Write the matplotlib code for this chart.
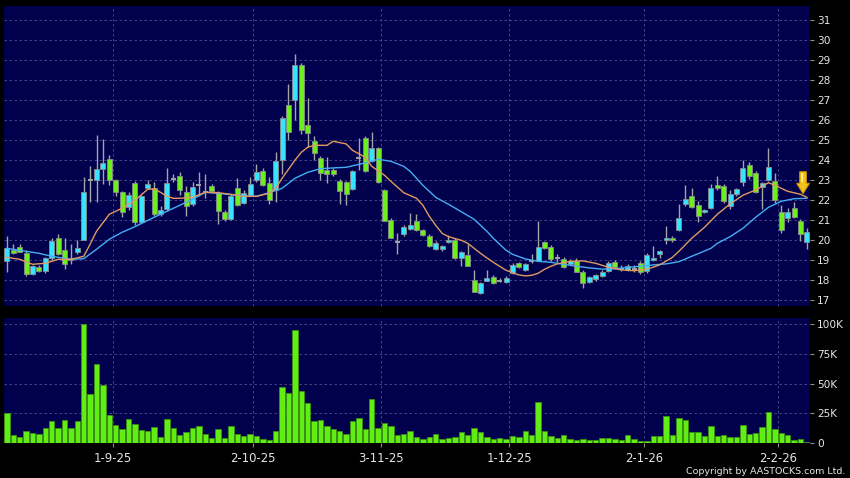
import matplotlib
matplotlib.use("Agg")
import matplotlib.pyplot as plt
from matplotlib.patches import Polygon
import numpy as np

# ---------------- data ----------------
opens = [18.97, 19.53, 19.66, 19.35, 18.33, 18.68, 18.45, 19.10, 20.10, 19.50,
         19.05, 19.40, 20.00, 23.00, 23.00, 23.55, 24.05, 23.00, 22.40, 21.65,
         22.88, 20.90, 22.62, 22.60, 21.33, 21.55, 23.05, 23.20, 22.40, 21.80,
         22.77, 22.40, 22.72, 22.38, 21.40, 21.05, 22.60, 21.85, 22.26, 23.00,
         23.48, 22.88, 22.50, 24.00, 26.77, 27.00, 28.77, 25.77, 24.98, 24.10,
         23.52, 23.50, 22.98, 22.90, 22.55, 24.10, 25.13, 23.97, 24.60, 22.52,
         21.02, 19.90, 20.32, 20.56, 20.98, 20.50, 20.24, 19.57, 19.55, 19.92,
         20.03, 19.12, 19.28, 18.00, 17.36, 17.99, 18.18, 17.97, 17.92, 18.38,
         18.85, 18.53, 18.95, 18.98, 19.90, 19.68, 19.10, 19.09, 18.80, 18.99,
         18.43, 17.92, 18.08, 18.23, 18.48, 18.91, 18.57, 18.52, 18.55, 18.89,
         18.48, 19.00, 19.31, 20.00, 20.12, 20.50, 21.80, 22.22, 21.78, 21.40,
         21.60, 22.78, 22.72, 21.73, 22.32, 22.92, 23.78, 23.39, 22.68, 23.03,
         22.98, 21.44, 21.10, 21.60, 20.98, 19.93]
highs = [20.20, 19.80, 19.80, 19.50, 18.75, 18.75, 19.15, 20.10, 20.30, 20.10,
         19.80, 20.00, 23.15, 23.73, 25.27, 25.05, 24.25, 23.05, 22.45, 22.40,
         22.95, 22.25, 23.00, 22.90, 21.70, 23.60, 23.30, 23.40, 22.70, 22.93,
         23.40, 23.30, 22.80, 22.45, 21.50, 22.30, 23.10, 22.50, 23.15, 23.80,
         23.60, 23.15, 24.40, 26.20, 27.80, 29.30, 28.88, 27.10, 25.20, 24.20,
         24.18, 23.60, 23.05, 22.95, 23.50, 25.10, 25.20, 25.43, 24.65, 22.55,
         21.10, 20.35, 20.75, 21.35, 21.30, 20.55, 20.30, 19.95, 19.75, 20.25,
         20.10, 19.45, 19.80, 18.50, 17.90, 18.50, 18.25, 18.10, 18.20, 18.85,
         18.90, 18.85, 19.30, 20.98, 19.95, 19.75, 19.30, 19.15, 19.05, 19.10,
         18.50, 18.20, 18.30, 18.50, 18.95, 19.00, 18.75, 18.80, 18.75, 18.95,
         19.35, 19.70, 19.50, 20.70, 20.20, 21.80, 22.77, 22.60, 21.95, 21.55,
         22.80, 23.20, 22.80, 22.50, 22.60, 24.00, 23.90, 23.45, 22.90, 24.60,
         23.35, 21.75, 21.60, 21.90, 21.05, 20.60]
lows = [18.43, 19.30, 19.40, 18.23, 18.25, 18.40, 18.35, 19.00, 19.25, 18.55,
        18.80, 19.30, 20.00, 21.90, 21.90, 22.80, 22.75, 22.20, 21.15, 21.50,
        20.75, 20.85, 22.55, 21.20, 21.20, 21.45, 22.90, 22.27, 21.23, 21.70,
        22.20, 22.10, 22.40, 20.80, 20.95, 21.00, 21.70, 21.80, 22.20, 22.90,
        22.70, 21.80, 21.93, 23.30, 25.00, 26.00, 25.30, 24.65, 24.00, 23.00,
        22.88, 23.20, 21.80, 21.75, 22.50, 23.50, 23.40, 23.90, 22.85, 20.95,
        20.10, 19.30, 20.20, 20.50, 20.45, 20.20, 19.65, 19.50, 19.45, 19.85,
        19.05, 18.70, 18.70, 17.40, 17.30, 17.95, 17.80, 17.90, 17.85, 18.30,
        18.60, 18.45, 18.85, 18.95, 19.55, 18.95, 18.90, 18.60, 18.75, 18.40,
        17.60, 17.85, 17.95, 18.15, 18.40, 18.60, 18.45, 18.45, 18.40, 18.30,
        18.35, 18.95, 19.10, 19.80, 19.90, 20.45, 21.70, 21.60, 20.90, 21.35,
        21.55, 22.50, 21.85, 21.55, 22.20, 22.70, 23.05, 22.35, 21.55, 22.95,
        21.85, 20.35, 20.90, 21.10, 19.95, 19.55]
closes = [19.60, 19.37, 19.43, 18.30, 18.70, 18.45, 19.10, 19.97, 19.30, 18.80,
          19.00, 19.60, 22.40, 23.00, 23.55, 23.85, 23.03, 22.40, 21.40, 22.27,
          20.90, 22.20, 22.82, 21.30, 21.53, 22.87, 23.05, 22.50, 21.72, 22.65,
          22.77, 22.40, 22.48, 21.47, 21.05, 22.20, 21.77, 22.38, 22.80, 23.43,
          22.77, 22.00, 23.98, 26.10, 25.43, 28.77, 25.50, 25.35, 24.35, 23.38,
          23.32, 23.30, 22.45, 22.30, 23.45, 24.10, 23.46, 24.60, 22.90, 20.98,
          20.14, 19.90, 20.68, 20.75, 20.54, 20.27, 19.72, 19.89, 19.70, 20.00,
          19.10, 19.40, 18.72, 17.43, 17.88, 18.10, 17.85, 17.97, 18.14, 18.76,
          18.66, 18.80, 18.95, 19.68, 19.62, 19.05, 19.10, 18.68, 18.98, 18.43,
          17.88, 18.15, 18.27, 18.43, 18.89, 18.68, 18.57, 18.73, 18.55, 18.43,
          19.28, 19.10, 19.44, 20.13, 20.03, 21.10, 22.09, 21.65, 21.20, 21.50,
          22.64, 22.63, 21.99, 22.33, 22.55, 23.64, 23.20, 22.43, 22.85, 23.65,
          22.03, 20.53, 21.43, 21.17, 20.33, 20.43]
volumes_k = [25.6, 7.3, 5.6, 10.7, 8.4, 7.9, 12.9, 18.5, 12.9, 19.4,
             12.9, 18.5, 99.7, 41.0, 66.6, 48.9, 23.6, 15.2, 12.4, 20.2,
             16.0, 11.2, 10.1, 13.5, 5.6, 20.2, 12.6, 6.7, 9.8, 13.2,
             14.3, 8.1, 4.2, 12.4, 4.5, 14.9, 7.6, 6.2, 8.1, 5.9,
             3.9, 3.1, 10.4, 46.9, 42.4, 94.7, 43.8, 33.7, 19.1, 19.7,
             14.9, 12.4, 10.4, 8.1, 18.3, 21.6, 12.4, 37.1, 12.6, 17.4,
             14.6, 7.3, 7.5, 10.1, 5.6, 3.7, 5.1, 7.9, 3.7, 4.8,
             5.3, 9.8, 7.0, 12.6, 9.6, 5.3, 3.7, 4.8, 3.7, 5.9,
             5.3, 10.1, 7.0, 34.6, 10.1, 5.9, 4.2, 7.0, 3.7, 3.1,
             3.9, 2.5, 2.5, 4.2, 4.5, 3.9, 2.5, 6.7, 3.7, 1.7,
             2.2, 5.9, 6.2, 23.3, 6.7, 21.1, 19.7, 9.8, 9.8, 6.2,
             14.6, 6.2, 6.7, 5.1, 5.6, 15.2, 7.9, 8.7, 14.0, 26.1,
             12.4, 9.0, 6.7, 2.5, 3.9, 1.1]

fast_ma_idx = [0, 2, 4, 6, 8, 10, 12, 13, 14, 16, 18, 20, 22, 23, 24, 25, 26, 27, 29,
               31, 33, 35, 37, 39, 41, 42, 43, 44, 45, 46, 47, 48, 50, 51, 53, 54,
               56, 57, 59, 60, 62, 64, 65, 66, 67, 68, 69, 71, 72, 73, 74, 75, 76,
               77, 78, 79, 80, 81, 82, 83, 84, 85, 86, 88, 90, 92, 94, 96, 98, 100,
               102, 104, 105, 107, 109, 111, 113, 115, 117, 119, 120, 122, 124, 125]
fast_ma = [19.15, 19.05, 18.80, 18.85, 19.05, 19.05, 19.20, 19.80, 20.45, 21.30, 21.60,
           22.00, 22.55, 22.57, 22.40, 22.20, 22.10, 22.10, 22.15, 22.40, 22.38, 22.30,
           22.20, 22.20, 22.35, 22.60, 23.10, 23.55, 24.00, 24.40, 24.65, 24.75, 24.75,
           24.95, 24.82, 24.50, 24.15, 23.70, 23.25, 22.95, 22.38, 22.10, 21.75, 21.20,
           20.75, 20.35, 20.18, 20.00, 19.85, 19.60, 19.35, 19.12, 18.90, 18.70, 18.50,
           18.38, 18.27, 18.22, 18.25, 18.35, 18.55, 18.70, 18.82, 18.95, 18.97, 18.85,
           18.65, 18.52, 18.48, 18.55, 18.77, 19.15, 19.45, 20.10, 20.65, 21.30, 21.82,
           22.25, 22.52, 22.88, 22.75, 22.45, 22.30, 22.15]
slow_ma_idx = [0, 2, 5, 7, 10, 12, 14, 16, 18, 20, 23, 25, 27, 29, 31, 33, 35, 37, 39,
               41, 43, 45, 47, 49, 51, 53, 56, 58, 60, 62, 63, 65, 67, 69, 71, 73, 75,
               76, 78, 79, 81, 83, 85, 87, 89, 91, 93, 95, 97, 99, 101, 103, 105, 107,
               108, 110, 111, 113, 115, 117, 119, 121, 123, 125]
slow_ma = [19.60, 19.50, 19.35, 19.20, 19.05, 19.08, 19.55, 20.05, 20.40, 20.68, 21.15,
           21.45, 21.75, 22.05, 22.40, 22.35, 22.28, 22.22, 22.20, 22.38, 22.60, 23.10,
           23.40, 23.58, 23.62, 23.65, 23.87, 24.05, 23.95, 23.70, 23.45, 22.75, 22.15,
           21.80, 21.43, 21.05, 20.45, 20.10, 19.50, 19.30, 19.07, 18.95, 18.90, 18.80,
           18.70, 18.62, 18.56, 18.57, 18.65, 18.70, 18.77, 18.82, 18.93, 19.20, 19.33,
           19.60, 19.85, 20.18, 20.60, 21.15, 21.65, 21.95, 22.08, 22.10]

date_labels = ["1-9-25", "2-10-25", "3-11-25", "1-12-25", "2-1-26", "2-2-26"]
date_idx = [17, 39, 59, 79, 100, 121]          # first trading day of each month
price_ticks = list(range(17, 32))
vol_ticks = [0, 25, 50, 75, 100]
vol_tick_labels = ["0", "25K", "50K", "75K", "100K"]

# ---------------- style ----------------
BG = "#00004c"
GRID = "#50508a"
UP = "#35e4ff"
DOWN = "#6cf01c"
WICK = "#a4a4a4"
EDGE = "#8c8c8c"
VOLC = "#62ee14"
FAST = "#e39a62"
SLOW = "#45aef2"
TXT = "#e6e6e6"

W, H = 850, 478
fig = plt.figure(figsize=(W / 100, H / 100), dpi=100, facecolor="black")
ax = fig.add_axes([3.7 / W, (H - 306) / H, 806.4 / W, 300 / H])
axv = fig.add_axes([3.7 / W, (H - 443.3) / H, 806.4 / W, 125 / H])

n = len(closes)
x = np.arange(n)
o = np.array(opens); c = np.array(closes)
h = np.array(highs); l = np.array(lows)
gridx = [d - 0.5 for d in date_idx]

for a in (ax, axv):
    a.set_facecolor(BG)
    for s in a.spines.values():
        s.set_visible(False)
    a.set_xlim(-0.5, n - 0.5)
    for gx in gridx:
        a.axvline(gx, color=GRID, lw=0.6, ls=(0, (3, 3)), zorder=1)

# ---- price panel ----
ax.set_ylim(16.715, 31.715)
for p in price_ticks:
    ax.axhline(p, color=GRID, lw=0.6, ls=(0, (3, 3)), zorder=1)

ax.vlines(x, l, h, color=WICK, lw=1.0, zorder=2)
bw = 0.78
for i in range(n):
    if abs(c[i] - o[i]) < 0.02:
        ax.hlines(c[i], i - bw / 2, i + bw / 2, color=WICK, lw=1.4, zorder=3)
    else:
        col = UP if c[i] > o[i] else DOWN
        ax.bar(i, abs(c[i] - o[i]), bottom=min(o[i], c[i]), width=bw,
               color=col, edgecolor=EDGE, linewidth=0.6, zorder=3)

ax.plot(slow_ma_idx, slow_ma, color=SLOW, lw=1.0, zorder=4)
ax.plot(fast_ma_idx, fast_ma, color=FAST, lw=1.0, zorder=4)

# yellow down arrow anchored at the last moving-average point
tipx = (n - 1) - 0.6
tipy = fast_ma[-1] + 0.18
arrow = [(tipx, tipy), (tipx - 1.0, tipy + 0.52), (tipx - 0.52, tipy + 0.52),
         (tipx - 0.52, tipy + 1.1), (tipx + 0.52, tipy + 1.1), (tipx + 0.52, tipy + 0.52),
         (tipx + 1.0, tipy + 0.52)]
ax.add_patch(Polygon(arrow, closed=True, facecolor="#f3c21c", edgecolor="#c98f00",
                     lw=0.8, zorder=6))
ax.add_patch(Polygon([(tipx - 0.25, tipy + 0.6), (tipx - 0.25, tipy + 1.02),
                      (tipx + 0.05, tipy + 1.02), (tipx + 0.05, tipy + 0.6)],
                     closed=True, facecolor="#fff27a", edgecolor="none", zorder=7))

ax.yaxis.tick_right()
ax.set_yticks(price_ticks)
ax.set_yticklabels([str(p) for p in price_ticks])
ax.tick_params(axis="y", colors=EDGE, labelcolor=TXT, length=3, width=0.8,
               labelsize=7.6, pad=2)
ax.set_xticks([])

# ---- volume panel ----
axv.set_ylim(0, 104.8)
for v in vol_ticks[1:]:
    axv.axhline(v, color=GRID, lw=0.6, ls=(0, (3, 3)), zorder=1)
axv.bar(x, volumes_k, width=0.82, color=VOLC, edgecolor="#3d9a0c", linewidth=0.5, zorder=3)
axv.yaxis.tick_right()
axv.set_yticks(vol_ticks)
axv.set_yticklabels(vol_tick_labels)
axv.tick_params(axis="y", colors=EDGE, labelcolor=TXT, length=3, width=0.8,
                labelsize=7.6, pad=2)
axv.set_xticks(gridx)
axv.set_xticklabels(date_labels)
axv.tick_params(axis="x", colors=EDGE, labelcolor=TXT, length=3, width=0.8,
                labelsize=8.4, pad=3)

fig.text(845 / W, 1 - 471 / H, "Copyright by AASTOCKS.com Ltd.", ha="right",
         va="center", color=TXT, fontsize=6.8)

fig.savefig("out.png", dpi=100, facecolor="black")
